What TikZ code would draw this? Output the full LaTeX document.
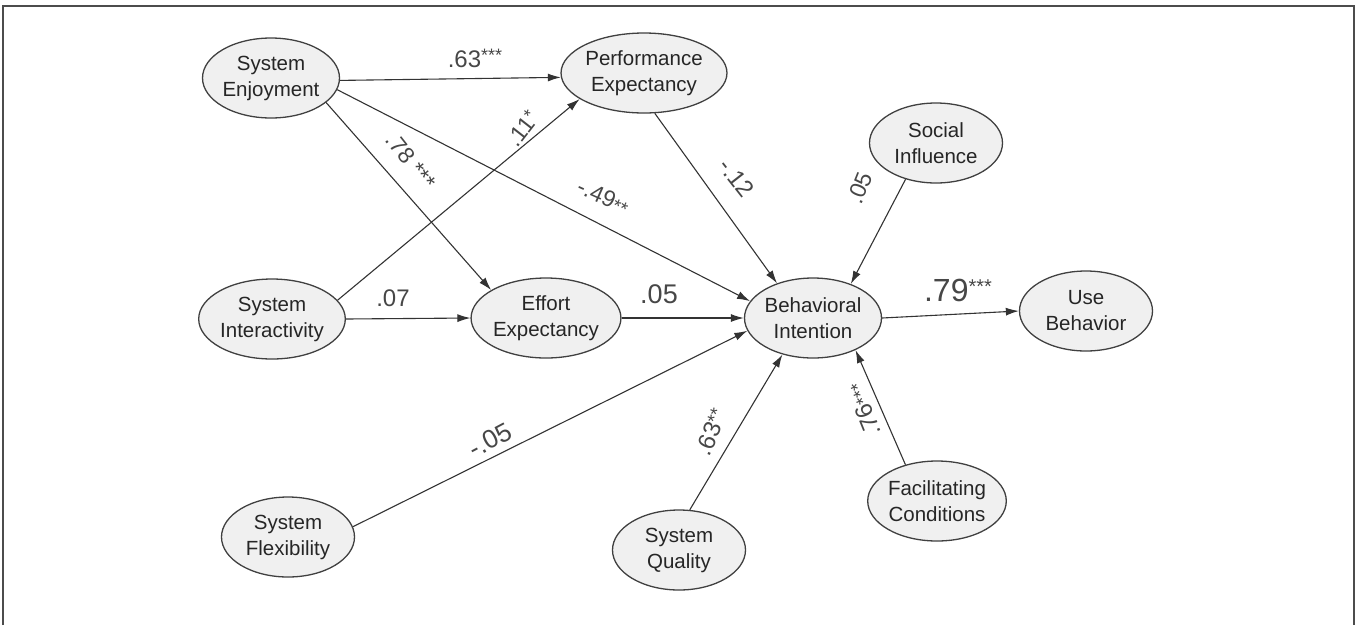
\documentclass[tikz,border=0pt]{standalone}
\usepackage{fontspec}
\setmainfont{Liberation Sans}
\usetikzlibrary{shapes.geometric,arrows.meta}
\newcommand\sig[3]{\raisebox{#1}{\fontsize{#2}{#2}\selectfont #3}}
\begin{document}
\begin{tikzpicture}[x=1pt,y=-1pt,
 lat/.style={ellipse,draw=black!75,line width=1.3pt,fill=black!6,minimum width=133pt,minimum height=80pt,inner sep=0pt,align=center,font=\fontsize{20.5}{26}\selectfont,text=black!85},
 pth/.style={draw=black!80,line width=1.1pt,-{Latex[length=13pt,width=8pt]}},
 lab/.style={font=\fontsize{23}{26}\selectfont,text=black!72,inner sep=1pt}]
\useasboundingbox (0,0) rectangle (1357,625);
\draw[black!70,line width=1.5pt] (3,625) -- (3,6) -- (1354,6) -- (1354,625);
% nodes
\node[lat] (SE) at (271,78) {System\\Enjoyment};
\node[lat] (PE) at (644,73) {Performance\\Expectancy};
\node[lat] (SOC) at (936,143) {Social\\Influence};
\node[lat] (SI) at (272,319) {System\\Interactivity};
\node[lat] (EE) at (546,318) {Effort\\Expectancy};
\node[lat] (BI) at (813,318) {Behavioral\\Intention};
\node[lat] (UB) at (1086,311) {Use\\Behavior};
\node[lat] (FC) at (937,501) {Facilitating\\Conditions};
\node[lat] (SF) at (288,537) {System\\Flexibility};
\node[lat] (SQ) at (679,550) {System\\Quality};
% paths
\draw[pth] (SE.-2) -- (PE.183);
\draw[pth] (SE.-24) -- (EE.153);
\draw[pth] (SE.-10) -- (BI.165);
\draw[pth] (SI.16) -- (PE.202);
\draw[pth] (SI.east) -- (EE.west);
\draw[pth] (EE.east) -- (BI.west);
\draw[pth] (PE.285) -- (BI.136);
\draw[pth] (SOC.230) -- (BI.42);
\draw[pth] (SF.9) -- (BI.191);
\draw[pth] (SQ.75) -- (BI.230);
\draw[pth] (FC.131) -- (BI.-37);
\draw[pth] (BI.east) -- (UB.west);
% labels
\node[lab,font=\fontsize{24}{26}\selectfont] (l1) at (475,58) {.63\sig{6pt}{18}{***}};
\node[lab,rotate=-52] (l2) at (411,161) {.78 ***};
\node[lab,rotate=52] (l3) at (522,128) {.11\sig{5pt}{18}{*}};
\node[lab,rotate=-24] (l4) at (603,197) {-.49\sig{-2pt}{19}{**}};
\node[lab,font=\fontsize{24}{26}\selectfont,rotate=-52] (l5) at (737,178) {-.12};
\node[lab,rotate=68] (l6) at (860,188) {.05};
\node[lab,font=\fontsize{24}{26}\selectfont] (l7) at (393,298) {.07};
\node[lab,font=\fontsize{27}{30}\selectfont] (l8) at (659,294) {.05};
\node[lab,font=\fontsize{32}{34}\selectfont] (l9) at (958,290) {.79\sig{8pt}{20}{***}};
\node[lab,font=\fontsize{26}{28}\selectfont,rotate=28] (l10) at (490,440) {-.05};
\node[lab,font=\fontsize{24}{26}\selectfont,rotate=68] (l11) at (711,432) {.63\sig{4pt}{19}{**}};
\node[lab,font=\fontsize{24}{26}\selectfont,rotate=112] (l12) at (864,410) {.76\sig{-1pt}{19}{***}};
\end{tikzpicture}
\end{document}
